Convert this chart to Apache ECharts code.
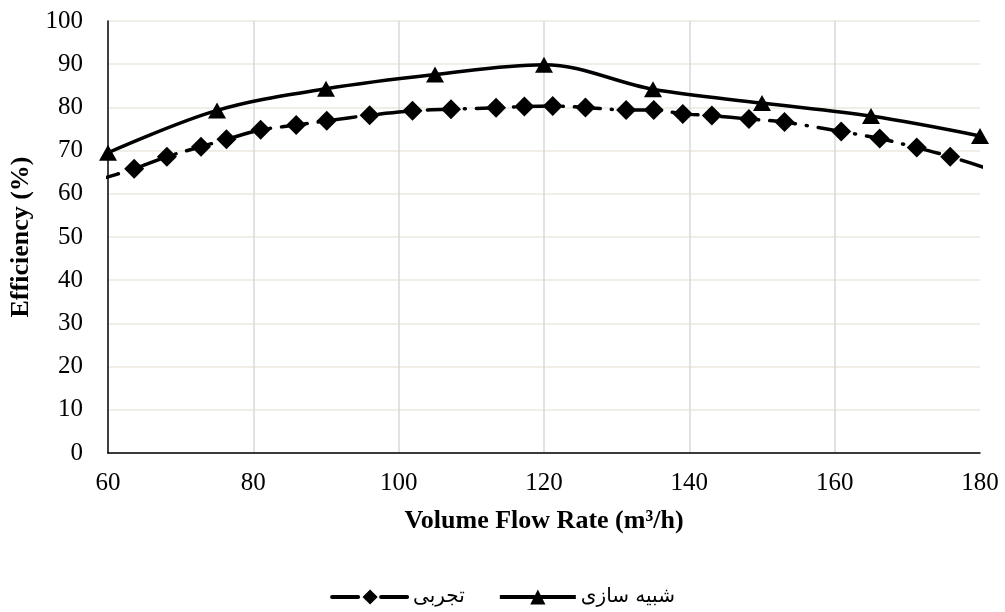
<!DOCTYPE html>
<html>
<head>
<meta charset="utf-8">
<script src="https://cdn.jsdelivr.net/npm/echarts@6/dist/echarts.min.js"></script>
<style>
html,body{margin:0;padding:0;background:#fff;}
#chart{width:1005px;height:612px;}
</style>
</head>
<body>
<div id="chart"></div>
<script>
// Experimental (تجربی) — first and last points lie just outside the axis range (line is clipped there)
var expX = [58, 63.6, 68.1, 72.8, 76.3, 81.0, 85.9, 90.1, 96.0, 101.9, 107.2, 113.4, 117.3, 121.2, 125.7, 131.3, 135.1, 139.1, 143.1, 148.2, 153.1, 160.9, 166.2, 171.3, 175.9, 182];
var expY = [62.9, 65.8, 68.6, 70.9, 72.6, 74.8, 75.9, 76.9, 78.2, 79.2, 79.6, 79.9, 80.2, 80.3, 80.0, 79.4, 79.4, 78.5, 78.1, 77.3, 76.6, 74.4, 72.8, 70.7, 68.6, 65.3];
// Simulation (شبیه سازی)
var simX = [60, 75, 90, 105, 120, 135, 150, 165, 180];
var simY = [69.5, 79.3, 84.3, 87.6, 89.9, 84.2, 81.0, 78.0, 73.4];
var xTicks = [60, 80, 100, 120, 140, 160, 180];
var yTicks = [0, 10, 20, 30, 40, 50, 60, 70, 80, 90, 100];

var expData = expX.map(function (x, i) {
  var item = { value: [x, expY[i]] };
  if (x < 60 || x > 180) item.symbol = 'none';
  return item;
});
var simData = simX.map(function (x, i) { return [x, simY[i]]; });

var chart = echarts.init(document.getElementById('chart'), null, { renderer: 'canvas' });
var serif = '"Liberation Serif", "Times New Roman", serif';
chart.setOption({
  animation: false,
  backgroundColor: '#ffffff',
  grid: { left: 108, right: 25, top: 21, bottom: 159, containLabel: false },
  xAxis: {
    type: 'value',
    min: xTicks[0], max: xTicks[xTicks.length - 1], interval: 20,
    name: 'Volume Flow Rate (m³/h)',
    nameLocation: 'middle', nameGap: 55,
    nameTextStyle: { fontFamily: serif, fontSize: 26, fontWeight: 'bold', color: '#000' },
    axisLine: { show: true, lineStyle: { color: '#000', width: 1.5 } },
    axisTick: { show: false },
    axisLabel: { fontFamily: serif, fontSize: 25, color: '#000', margin: 18 },
    splitLine: { show: true, lineStyle: { color: ['rgba(0,0,0,0)', '#d9d9d9', '#d9d9d9', '#d9d9d9', '#d9d9d9', '#d9d9d9', 'rgba(0,0,0,0)'], width: 1.5 } }
  },
  yAxis: {
    type: 'value',
    min: yTicks[0], max: yTicks[yTicks.length - 1], interval: 10,
    name: 'Efficiency (%)',
    nameLocation: 'middle', nameGap: 70, nameRotate: 90,
    nameTextStyle: { fontFamily: serif, fontSize: 26, fontWeight: 'bold', color: '#000' },
    axisLine: { show: true, lineStyle: { color: '#000', width: 1.5 } },
    axisTick: { show: false },
    axisLabel: { fontFamily: serif, fontSize: 25, color: '#000', margin: 25 },
    splitLine: { show: true, lineStyle: { color: '#ece8df', width: 1.5 } }
  },
  legend: {
    bottom: 5, left: 'center', padding: 0,
    itemWidth: 76, itemHeight: 19, itemGap: 33,
    lineStyle: { width: 4 },
    textStyle: { fontFamily: '"DejaVu Sans", sans-serif', fontSize: 20, color: '#000' },
    data: ['تجربی', 'شبیه سازی']
  },
  series: [
    {
      name: 'تجربی',
      type: 'line',
      data: expData,
      smooth: 0.3,
      clip: true,
      symbol: 'diamond',
      symbolSize: 20,
      itemStyle: { color: '#000' },
      lineStyle: { color: '#000', width: 3.5, type: [26, 11, 1, 11], cap: 'round' },
      z: 3
    },
    {
      name: 'شبیه سازی',
      type: 'line',
      data: simData,
      smooth: 0.35,
      clip: true,
      symbol: 'triangle',
      symbolSize: [18, 16],
      itemStyle: { color: '#000' },
      lineStyle: { color: '#000', width: 3.5 },
      z: 4
    }
  ]
});
</script>
</body>
</html>
